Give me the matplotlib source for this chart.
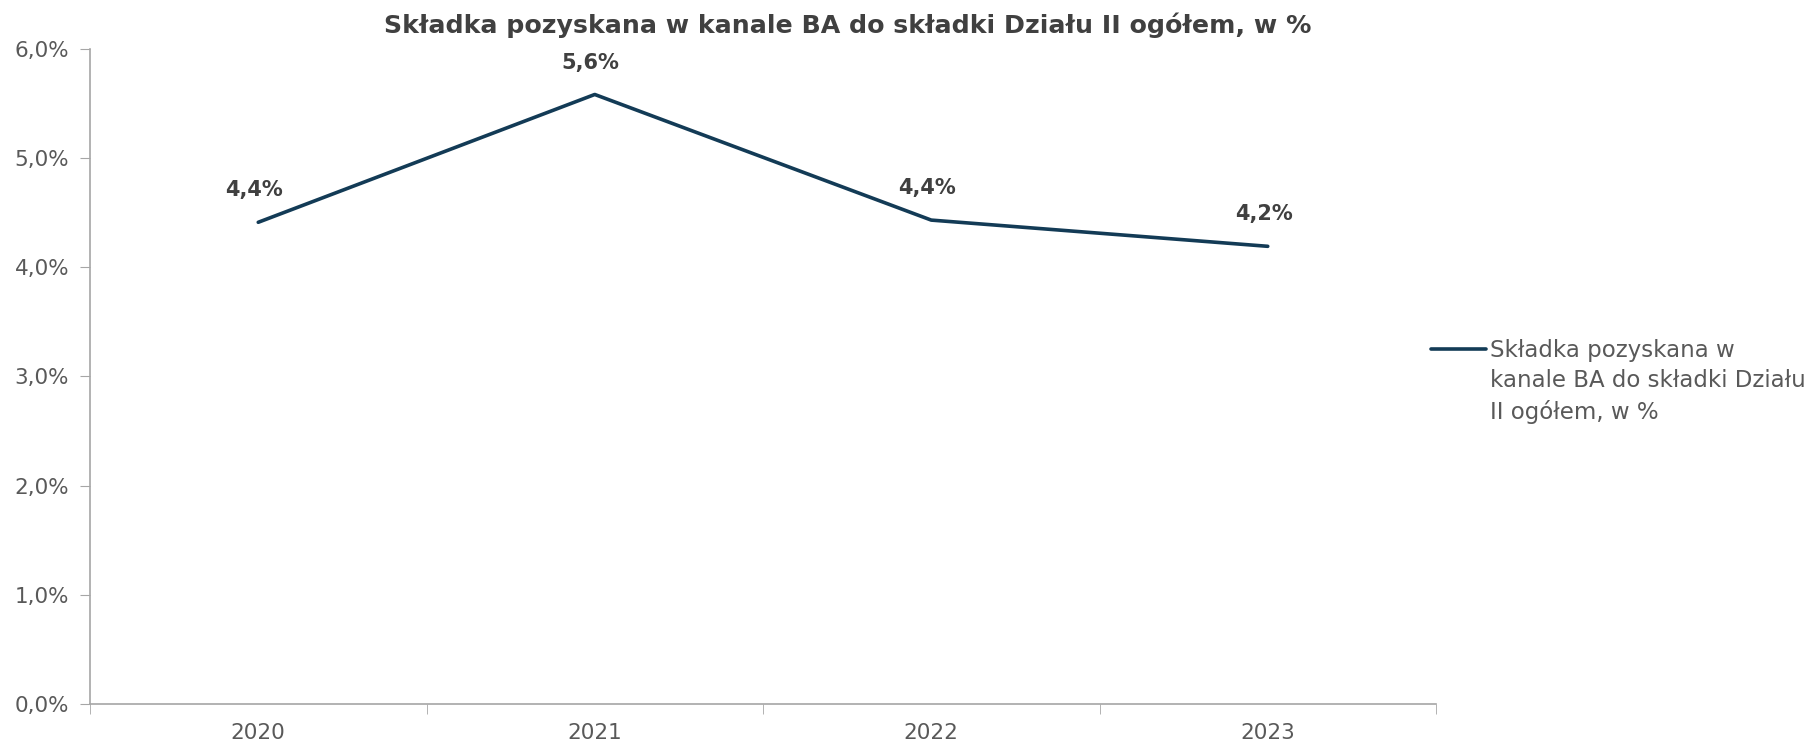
import matplotlib
matplotlib.use('Agg')
import matplotlib.pyplot as plt
from matplotlib.lines import Line2D

# share of premium from the BA channel in total Section II premium
years = ['2020', '2021', '2022', '2023']
share = [4.41, 5.58, 4.43, 4.19]
labels = ['4,4%', '5,6%', '4,4%', '4,2%']
yticks = [0, 1, 2, 3, 4, 5, 6]
ytick_labels = ['0,0%', '1,0%', '2,0%', '3,0%', '4,0%', '5,0%', '6,0%']

title = 'Składka pozyskana w kanale BA do składki Działu II ogółem, w %'
series_name = 'Składka pozyskana w\nkanale BA do składki Działu\nII ogółem, w %'

line_color = '#133B56'
text_color = '#595959'
label_color = '#404040'
axis_color = '#A6A6A6'

plt.rcParams['font.family'] = ['DejaVu Sans']

fig = plt.figure(figsize=(18.13, 7.47), dpi=100)
ax = fig.add_axes([90 / 1813, 43 / 747, (1436 - 90) / 1813, (704 - 48.6) / 747])

x = list(range(len(years)))
ax.plot(x, share, color=line_color, linewidth=2.6, solid_capstyle='round')

for xi, v, lab in zip(x, share, labels):
    ax.annotate(lab, (xi, v), xytext=(-3, 23), textcoords='offset points',
                ha='center', va='center', fontsize=15, fontweight='bold',
                color=label_color)

ax.set_xlim(-0.5, len(years) - 0.5)
ax.set_ylim(0, 6)
ax.set_yticks(yticks)
ax.set_yticklabels(ytick_labels)
ax.set_xticks(x)
ax.set_xticklabels(years)
ax.set_xticks([i - 0.5 for i in range(len(years) + 1)], minor=True)

ax.tick_params(axis='x', which='major', length=0, pad=14, labelsize=15.5, labelcolor=text_color)
ax.tick_params(axis='x', which='minor', length=7, color=axis_color, direction='out')
ax.tick_params(axis='y', length=7, color=axis_color, pad=8, labelsize=15.5, labelcolor=text_color)

for side in ['top', 'right']:
    ax.spines[side].set_visible(False)
for side in ['left', 'bottom']:
    ax.spines[side].set_color(axis_color)
    ax.spines[side].set_linewidth(1.2)

fig.text(848 / 1813, 1 - 25 / 747, title, ha='center', va='center',
         fontsize=18.2, fontweight='bold', color=label_color)

# legend entry drawn at the right of the plot area
fig.add_artist(Line2D([1431 / 1813, 1486 / 1813], [1 - 349 / 747, 1 - 349 / 747],
                      color=line_color, linewidth=2.6, solid_capstyle='round'))
fig.text(1490 / 1813, 1 - 339 / 747, series_name, ha='left', va='top',
         fontsize=16.5, color=text_color, linespacing=1.4)

fig.savefig('out.png', dpi=100)
